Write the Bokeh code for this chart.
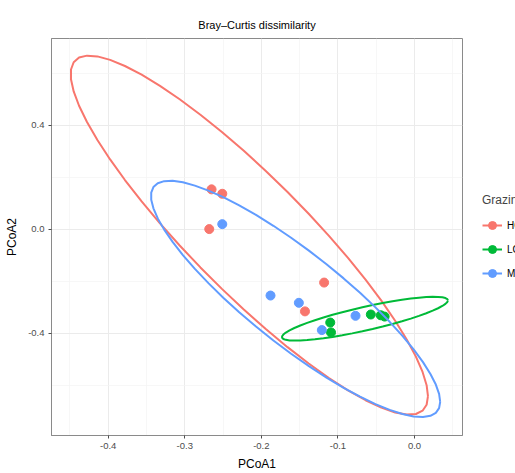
import numpy as np
from bokeh.plotting import figure
from bokeh.layouts import row
from bokeh.models import Range1d, FixedTicker, Legend, LegendItem
from bokeh.embed import file_html
from bokeh.resources import INLINE

# ---- data ----
groups = ["HG", "LG", "MG"]
colors = ["#F8766D", "#00BA38", "#619CFF"]
hg_x = [-0.265, -0.251, -0.268, -0.118, -0.143]
hg_y = [0.154, 0.137, 0.001, -0.205, -0.316]
lg_x = [-0.110, -0.109, -0.057, -0.044, -0.039]
lg_y = [-0.359, -0.397, -0.328, -0.331, -0.336]
mg_x = [-0.251, -0.188, -0.151, -0.121, -0.077]
mg_y = [0.020, -0.255, -0.283, -0.388, -0.333]
x_ticks = [-0.4, -0.3, -0.2, -0.1, 0.0]
x_tick_labels = ["-0.4", "-0.3", "-0.2", "-0.1", "0.0"]
y_ticks = [-0.4, 0.0, 0.4]
y_tick_labels = ["-0.4", "0.0", "0.4"]
x_minor = [-0.45, -0.35, -0.25, -0.15, -0.05, 0.05]
y_minor = [-0.6, -0.2, 0.2, 0.6]

series = {"HG": (hg_x, hg_y), "LG": (lg_x, lg_y), "MG": (mg_x, mg_y)}


def cov_trob(X, nu=5, maxit=25, tol=0.01):
    n, p = X.shape
    wt = np.ones(n)
    loc = X.mean(0)
    w = np.sqrt(wt)
    Xc = X - loc
    for _ in range(maxit):
        w0 = w
        Xc = X - loc
        sw = np.sqrt(w / w.sum())
        _, d, vt = np.linalg.svd(sw[:, None] * Xc, full_matrices=False)
        wX = Xc @ vt.T @ np.diag(1.0 / d)
        Q = (wX ** 2).sum(1)
        w = wt * (nu + p) / (nu + Q)
        loc = (w[:, None] * X).sum(0) / w.sum()
        if np.all(np.abs(w - w0) < tol):
            break
    sX = np.sqrt(w)[:, None] * Xc
    cov = sX.T @ sX / wt.sum()
    return loc, cov


def stat_ellipse(xs, ys, level=0.95, segments=51):
    X = np.column_stack([xs, ys]).astype(float)
    center, shape = cov_trob(X)
    dfn, dfd = 2, X.shape[0] - 1
    q = dfd / 2.0 * ((1 - level) ** (-2.0 / dfd) - 1)
    radius = np.sqrt(dfn * q)
    U = np.linalg.cholesky(shape).T
    ang = np.arange(segments + 1) * 2 * np.pi / segments
    circ = np.column_stack([np.cos(ang), np.sin(ang)])
    e = center + radius * (circ @ U)
    return e[:, 0], e[:, 1]


p = figure(width=464, height=473, output_backend="svg", toolbar_location=None,
           x_range=Range1d(-0.474, 0.0627), y_range=Range1d(-0.794, 0.735),
           min_border_left=51, min_border_right=2, min_border_top=38,
           min_border_bottom=33)

p.background_fill_color = "white"
p.border_fill_color = "white"
p.outline_line_color = "#8a8a8a"
p.outline_line_width = 1

# title
p.title.text = "Bray\u2013Curtis dissimilarity"
p.title.align = "center"
p.title.text_font = "Liberation Sans"
p.title.text_font_size = "11px"
p.title.text_font_style = "normal"
p.title.text_color = "#000000"
p.title.standoff = 15

# axes
for ax, ticks, labels, minor in ((p.xaxis[0], x_ticks, x_tick_labels, x_minor),
                                  (p.yaxis[0], y_ticks, y_tick_labels, y_minor)):
    ax.ticker = FixedTicker(ticks=ticks, minor_ticks=minor)
    ax.major_label_overrides = {t: l for t, l in zip(ticks, labels)}
    ax.axis_line_color = "#8a8a8a"
    ax.major_tick_line_color = "#4d4d4d"
    ax.major_tick_out = 3
    ax.major_tick_in = 0
    ax.minor_tick_line_color = None
    ax.major_label_text_font = "Liberation Sans"
    ax.major_label_text_font_size = "9.5px"
    ax.major_label_text_color = "#4d4d4d"
    ax.major_label_standoff = 3
    ax.axis_label_text_font = "Liberation Sans"
    ax.axis_label_text_font_size = "12px"
    ax.axis_label_text_font_style = "normal"
    ax.axis_label_text_color = "#000000"

p.xaxis.axis_label = "PCoA1"
p.yaxis.axis_label = "PCoA2"
p.xaxis.axis_label_standoff = 5
p.yaxis.axis_label_standoff = 6

for g in p.grid:
    g.grid_line_color = "#EBEBEB"
    g.grid_line_width = 1
    g.minor_grid_line_color = "#F3F3F3"
    g.minor_grid_line_width = 0.7
p.xgrid.ticker = FixedTicker(ticks=x_ticks, minor_ticks=x_minor)
p.ygrid.ticker = FixedTicker(ticks=y_ticks, minor_ticks=y_minor)

for g, c in zip(groups, colors):
    xs, ys = series[g]
    p.scatter(xs, ys, size=9, color=c, line_color=c)

for g, c in zip(groups, colors):
    xs, ys = series[g]
    ex, ey = stat_ellipse(xs, ys)
    p.line(ex, ey, line_color=c, line_width=2)

# ---- legend panel (cut off at the right edge, as in the reference) ----
q = figure(width=51, height=473, output_backend="svg", toolbar_location=None,
           x_range=Range1d(0, 1), y_range=Range1d(0, 1),
           x_axis_location=None, y_axis_location=None,
           min_border=0, min_border_left=0, min_border_right=0,
           min_border_top=0, min_border_bottom=0)
q.grid.visible = False
q.outline_line_color = None
q.background_fill_color = "white"
q.border_fill_color = "white"

items = []
for g, c in zip(groups, colors):
    # key glyphs only: their single point lies outside this panel's range
    lr = q.line(x=[5, 6], y=[5, 5], line_color=c, line_width=2)
    sr = q.scatter(x=[5], y=[5], size=9, color=c, line_color=c)
    items.append(LegendItem(label=g, renderers=[lr, sr]))

legend = Legend(items=items, location=(18, 152), title="Grazing",
                title_text_font="Liberation Sans", title_text_font_size="12px",
                title_text_font_style="normal", title_standoff=8,
                label_text_font="Liberation Sans", label_text_font_size="10px",
                label_text_color="#000000",
                glyph_width=20, glyph_height=20, label_height=20, spacing=4,
                label_standoff=5, padding=0, margin=0,
                border_line_color=None, background_fill_alpha=0)
q.add_layout(legend)

layout = row(p, q, spacing=0)
open("out.html", "w").write(file_html(layout, INLINE))
